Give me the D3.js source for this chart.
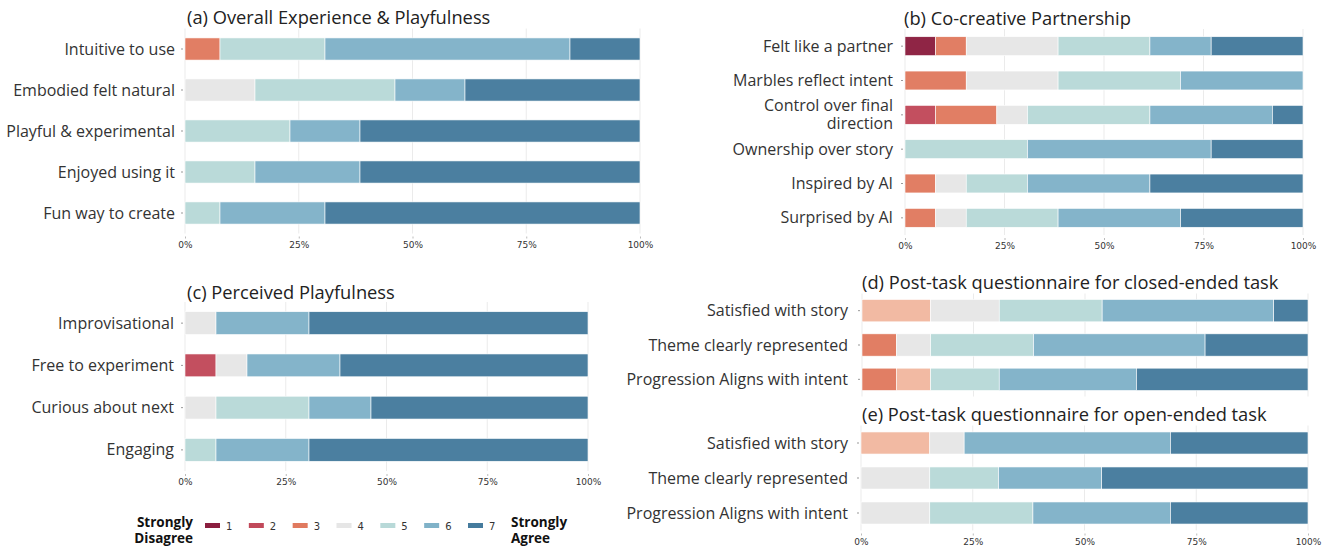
<!DOCTYPE html>
<html>
<head>
<meta charset="utf-8">
<script src="https://cdn.jsdelivr.net/npm/d3@7"></script>
<style>
  body { margin: 0; background: #fff; }
  svg { font-family: "Open Sans", "Noto Sans", sans-serif; }
  .tick text { fill: #333; }
</style>
</head>
<body>
<svg id="chart" width="1325" height="548"></svg>
<script>
// likert levels and colours
var levels = ["1", "2", "3", "4", "5", "6", "7"];
var likertColors = ["#8b1e3f", "#c1495a", "#e07a5f", "#e6e6e6", "#b8d9d8", "#80b2c8", "#457b9d"];
// post-task panels use a lighter salmon for 3
var postColors = ["#8b1e3f", "#e07a5f", "#f2b8a0", "#e6e6e6", "#b8d9d8", "#80b2c8", "#457b9d"];
var xTicks = [0, 0.25, 0.5, 0.75, 1];

// counts per level (1..7), 13 participants
var aItems = ["Intuitive to use", "Embodied felt natural", "Playful & experimental", "Enjoyed using it", "Fun way to create"];
var aCounts = [
  [0, 0, 1, 0, 3, 7, 2],
  [0, 0, 0, 2, 4, 2, 5],
  [0, 0, 0, 0, 3, 2, 8],
  [0, 0, 0, 0, 2, 3, 8],
  [0, 0, 0, 0, 1, 3, 9]
];

var bItems = ["Felt like a partner", "Marbles reflect intent", "Control over final|direction", "Ownership over story", "Inspired by AI", "Surprised by AI"];
var bCounts = [
  [1, 0, 1, 3, 3, 2, 3],
  [0, 0, 2, 3, 4, 4, 0],
  [0, 1, 2, 1, 4, 4, 1],
  [0, 0, 0, 0, 4, 6, 3],
  [0, 0, 1, 1, 2, 4, 5],
  [0, 0, 1, 1, 3, 4, 4]
];

var cItems = ["Improvisational", "Free to experiment", "Curious about next", "Engaging"];
var cCounts = [
  [0, 0, 0, 1, 0, 3, 9],
  [0, 1, 0, 1, 0, 3, 8],
  [0, 0, 0, 1, 3, 2, 7],
  [0, 0, 0, 0, 1, 3, 9]
];

var dItems = ["Satisfied with story", "Theme clearly represented", "Progression Aligns with intent"];
var dCounts = [
  [0, 0, 2, 2, 3, 5, 1],
  [0, 1, 0, 1, 3, 5, 3],
  [0, 1, 1, 0, 2, 4, 5]
];

var eItems = ["Satisfied with story", "Theme clearly represented", "Progression Aligns with intent"];
var eCounts = [
  [0, 0, 2, 1, 0, 6, 4],
  [0, 0, 0, 2, 2, 3, 6],
  [0, 0, 0, 2, 3, 4, 4]
];

var svg = d3.select("#chart");

function drawPanel(p) {
  var g = svg.append("g");

  var x = d3.scaleLinear().domain([0, 1]).range([p.x0, p.x1]);
  var y = d3.scaleBand()
    .domain(p.items)
    .range([p.y0, p.y1])
    .paddingInner(p.pad)
    .paddingOuter(p.pad / 2);

  // gridlines
  g.append("g").selectAll("line")
    .data(xTicks)
    .enter().append("line")
    .attr("x1", d => x(d)).attr("x2", d => x(d))
    .attr("y1", p.y0).attr("y2", p.y1)
    .attr("stroke", "#ebebeb")
    .attr("stroke-width", 1);

  // stack the counts into proportions
  var rows = p.counts.map(function (c, i) {
    var total = d3.sum(c), acc = 0;
    return c.map(function (v, k) {
      var seg = { item: p.items[i], level: k, x0: acc / total, x1: (acc + v) / total };
      acc += v;
      return seg;
    }).filter(s => s.x1 > s.x0);
  });

  g.append("g").selectAll("g")
    .data(rows)
    .enter().append("g")
    .selectAll("rect")
    .data(d => d)
    .enter().append("rect")
    .attr("x", d => x(d.x0))
    .attr("width", d => x(d.x1) - x(d.x0))
    .attr("y", d => y(d.item))
    .attr("height", y.bandwidth())
    .attr("fill", d => p.colors[d.level])
    .attr("fill-opacity", 0.97)
    .attr("stroke", "#fff")
    .attr("stroke-width", 0.6);

  // y labels (| splits a label over two lines)
  var yl = g.append("g");
  var lx = p.x0 - p.gap;
  p.items.forEach(function (it) {
    var parts = it.split("|");
    var cy = y(it) + y.bandwidth() / 2;
    parts.forEach(function (s, j) {
      yl.append("text")
        .attr("x", lx)
        .attr("y", cy + (j - (parts.length - 1) / 2) * 18)
        .attr("dy", "0.35em")
        .attr("text-anchor", "end")
        .attr("fill", "#333")
        .style("font-size", p.labelSize + "px")
        .text(s);
    });
    yl.append("line")
      .attr("x1", p.x0 - 4).attr("x2", p.x0 - 2)
      .attr("y1", cy).attr("y2", cy)
      .attr("stroke", "#999");
  });

  // x axis
  if (p.axis) {
    var ax = g.append("g")
      .attr("transform", "translate(0," + (p.y1 + 3) + ")")
      .call(d3.axisBottom(x).tickValues(xTicks).tickFormat(d3.format(".0%")).tickSize(2).tickPadding(3));
    ax.select(".domain").remove();
    ax.selectAll(".tick line").attr("stroke", "#bbb");
    ax.selectAll(".tick text").style("font-size", "9px").style("font-family", "DejaVu Sans, sans-serif");
  }

  // title
  g.append("text")
    .attr("x", p.titleX)
    .attr("y", p.titleY)
    .attr("fill", "#222")
    .style("font-size", "18.3px")
    .text(p.title);
}

drawPanel({ title: "(a) Overall Experience & Playfulness", titleX: 187, titleY: 24,
  items: aItems, counts: aCounts, colors: likertColors,
  x0: 185, x1: 640, y0: 28.5, y1: 233.5, pad: 0.46, labelSize: 16, gap: 10, axis: true });

drawPanel({ title: "(b) Co-creative Partnership", titleX: 904, titleY: 25,
  items: bItems, counts: bCounts, colors: likertColors,
  x0: 905, x1: 1303, y0: 29, y1: 235, pad: 0.45, labelSize: 16, gap: 12, axis: true });

drawPanel({ title: "(c) Perceived Playfulness", titleX: 187, titleY: 299,
  items: cItems, counts: cCounts, colors: likertColors,
  x0: 185, x1: 588, y0: 302, y1: 471, pad: 0.46, labelSize: 16, gap: 11, axis: true });

drawPanel({ title: "(d) Post-task questionnaire for closed-ended task", titleX: 862, titleY: 289,
  items: dItems, counts: dCounts, colors: postColors,
  x0: 862, x1: 1308, y0: 293.5, y1: 396.5, pad: 0.35, labelSize: 16, gap: 14, axis: false });

drawPanel({ title: "(e) Post-task questionnaire for open-ended task", titleX: 862, titleY: 421,
  items: eItems, counts: eCounts, colors: postColors,
  x0: 861, x1: 1308, y0: 425.5, y1: 530.5, pad: 0.37, labelSize: 16, gap: 13, axis: true });

// legend
var lx = d3.scalePoint().domain(levels).range([205, 468]);
var leg = svg.append("g");
leg.selectAll("rect")
  .data(levels)
  .enter().append("rect")
  .attr("x", d => lx(d))
  .attr("y", 523)
  .attr("width", 15)
  .attr("height", 5)
  .attr("fill", (d, i) => likertColors[i]);
leg.selectAll("text.num")
  .data(levels)
  .enter().append("text")
  .attr("class", "num")
  .attr("x", d => lx(d) + 21)
  .attr("y", 526)
  .attr("dy", "0.35em")
  .attr("fill", "#333")
  .style("font-size", "10px")
  .style("font-family", "DejaVu Sans, sans-serif")
  .text(d => d);

function boldPair(x, anchor, a, b) {
  [a, b].forEach(function (s, j) {
    leg.append("text")
      .attr("x", x)
      .attr("y", 527 + j * 16)
      .attr("text-anchor", anchor)
      .attr("fill", "#111")
      .style("font-size", "13.5px")
      .style("font-weight", "bold")
      .text(s);
  });
}
boldPair(193, "end", "Strongly", "Disagree");
boldPair(511, "start", "Strongly", "Agree");
</script>
</body>
</html>
